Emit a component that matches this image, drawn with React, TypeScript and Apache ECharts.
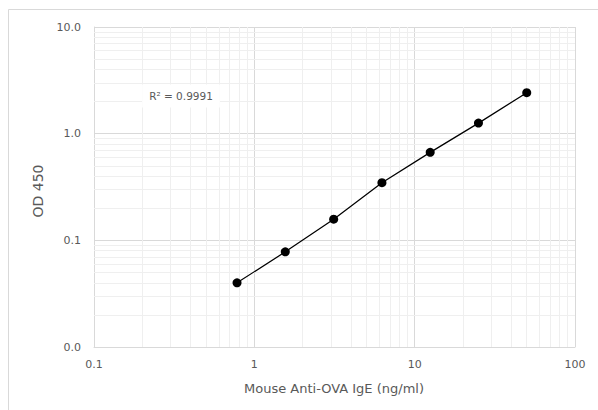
import React, { useEffect, useRef } from "react";
import * as echarts from "echarts";

const concentrations = [0.78, 1.56, 3.125, 6.25, 12.5, 25, 50];
const odValues = [0.04, 0.078, 0.158, 0.347, 0.668, 1.256, 2.42];
const xMinorTicks = [0.2, 0.3, 0.4, 0.5, 0.6, 0.7, 0.8, 0.9, 2, 3, 4, 5, 6, 7, 8, 9, 20, 30, 40, 50, 60, 70, 80, 90];
const yMinorTicks = [0.02, 0.03, 0.04, 0.05, 0.06, 0.07, 0.08, 0.09, 0.2, 0.3, 0.4, 0.5, 0.6, 0.7, 0.8, 0.9, 2, 3, 4, 5, 6, 7, 8, 9];
const r2Label = "R² = 0.9991";
const xTitle = "Mouse Anti-OVA IgE (ng/ml)";
const yTitle = "OD 450";

const FONT = "'DejaVu Sans', sans-serif";
const TEXT = "#595959";

export default function App() {
  const ref = useRef<HTMLDivElement>(null);
  useEffect(() => {
    if (!ref.current) return;
    const chart = echarts.init(ref.current, undefined, { renderer: "svg" });
    const points = concentrations.map((x, i) => [x, odValues[i]]);
    chart.setOption({
      animation: false,
      backgroundColor: "#ffffff",
      grid: { left: 94, right: 23, top: 27, bottom: 63 },
      xAxis: {
        type: "log",
        logBase: 10,
        min: 0.1,
        max: 100,
        axisLine: { show: true, lineStyle: { color: "#d9d9d9", width: 1 } },
        axisTick: { show: false },
        splitLine: { show: true, lineStyle: { color: "#d9d9d9", width: 1 } },
        axisLabel: {
          color: TEXT,
          fontFamily: FONT,
          fontSize: 11,
          margin: 12,
          formatter: (v: number) => String(Number(v.toPrecision(3))),
        },
      },
      yAxis: {
        type: "log",
        logBase: 10,
        min: 0.01,
        max: 10,
        axisLine: { show: true, lineStyle: { color: "#d9d9d9", width: 1 } },
        axisTick: { show: false },
        splitLine: { show: true, lineStyle: { color: "#d9d9d9", width: 1 } },
        axisLabel: {
          color: TEXT,
          fontFamily: FONT,
          fontSize: 11,
          margin: 13,
          formatter: (v: number) => v.toFixed(1),
        },
      },
      graphic: [
        {
          type: "rect",
          shape: { x: 8.5, y: 9.5, width: 700, height: 500 },
          style: { fill: "none", stroke: "#d9d9d9", lineWidth: 1 },
          silent: true,
        },
        {
          type: "text",
          x: 181,
          y: 96,
          z: 100,
          style: {
            text: r2Label,
            fill: TEXT,
            font: `10.5px ${FONT}`,
            align: "center",
            verticalAlign: "middle",
            backgroundColor: "#ffffff",
            padding: [6, 7, 6, 7],
          },
        },
        {
          type: "text",
          x: 334,
          y: 388,
          style: {
            text: xTitle,
            fill: TEXT,
            font: `13px ${FONT}`,
            align: "center",
            verticalAlign: "middle",
          },
        },
        {
          type: "text",
          x: 38,
          y: 191,
          rotation: Math.PI / 2,
          style: {
            text: yTitle,
            fill: TEXT,
            font: `14px ${FONT}`,
            align: "center",
            verticalAlign: "middle",
          },
        },
      ],
      series: [
        {
          type: "line",
          data: [],
          z: 1,
          silent: true,
          markLine: {
            silent: true,
            symbol: "none",
            label: { show: false },
            lineStyle: { color: "#efefef", width: 1, type: "solid" },
            data: [
              ...xMinorTicks.map((v) => ({ xAxis: v })),
              ...yMinorTicks.map((v) => ({ yAxis: v })),
            ],
          },
        },
        {
          type: "line",
          data: points,
          z: 5,
          symbol: "circle",
          symbolSize: 9,
          itemStyle: { color: "#000000" },
          lineStyle: { color: "#000000", width: 1.25 },
        },
      ],
    });
    return () => chart.dispose();
  }, []);
  return (
    <div
      ref={ref}
      style={{ position: "fixed", left: 0, top: 0, width: 598, height: 410 }}
    />
  );
}
